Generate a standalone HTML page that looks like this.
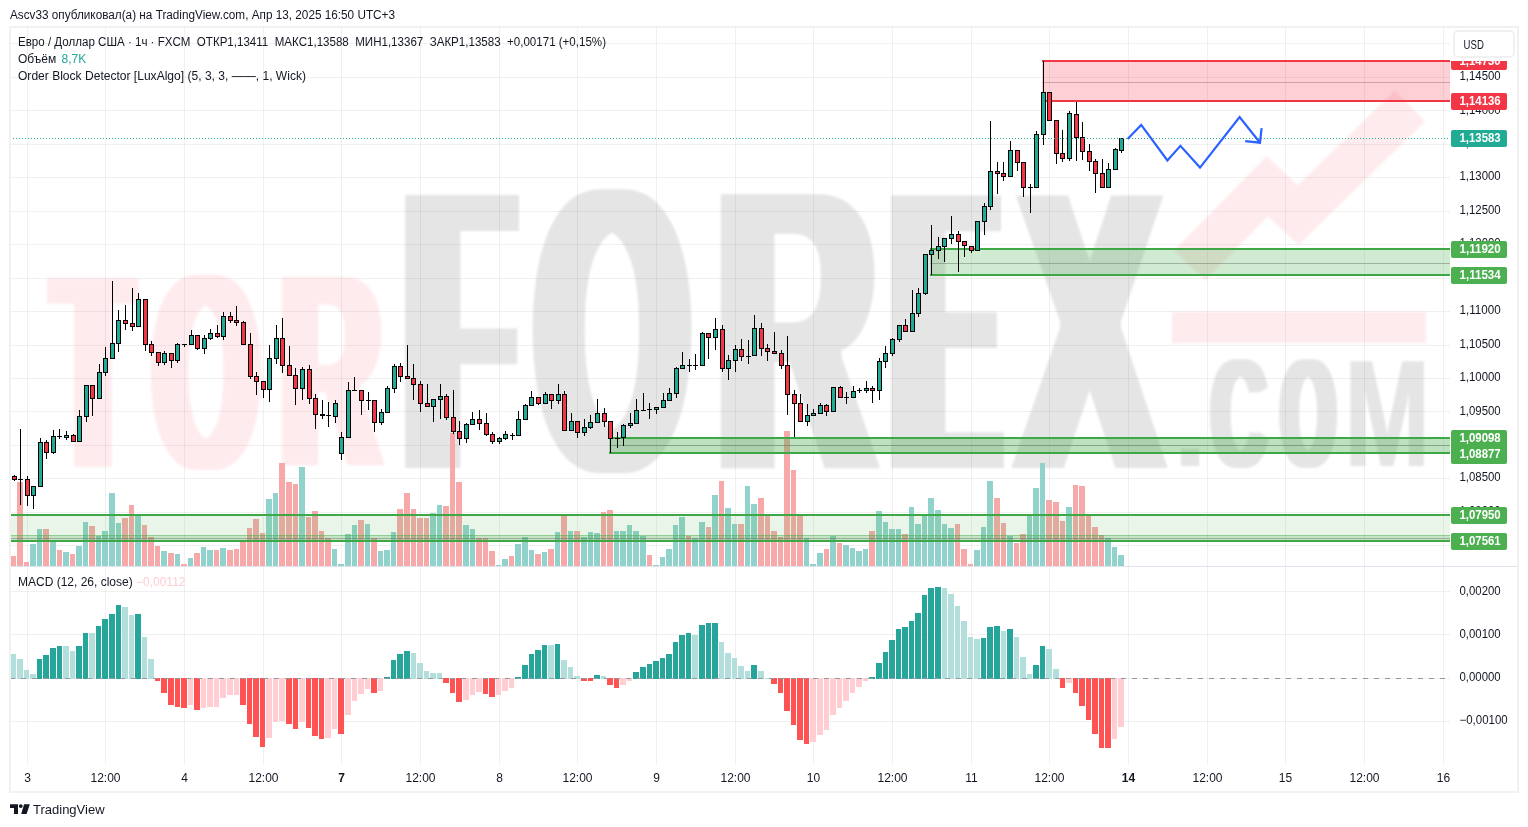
<!DOCTYPE html>
<html><head><meta charset="utf-8"><title>EURUSD chart</title>
<style>
html,body{margin:0;padding:0;background:#fff;}
body{width:1528px;height:827px;overflow:hidden;position:relative;font-family:'Liberation Sans', Arial, sans-serif;}
svg{position:absolute;left:0;top:0;}
svg text{font-family:'Liberation Sans', Arial, sans-serif;}
</style></head>
<body>
<svg width="1528" height="827" viewBox="0 0 1528 827" shape-rendering="crispEdges">
<defs>
<filter id="wf0" x="-40%" y="-20%" width="180%" height="140%"><feMorphology operator="dilate" radius="10.49 0.01"/><feMorphology operator="erode" radius="0.01 2.71"/><feGaussianBlur stdDeviation="0.8"/></filter>
<filter id="wf1" x="-40%" y="-20%" width="180%" height="140%"><feMorphology operator="dilate" radius="8.99 0.01"/><feMorphology operator="erode" radius="0.01 1.92"/><feGaussianBlur stdDeviation="0.8"/></filter>
<filter id="wf2" x="-40%" y="-20%" width="180%" height="140%"><feMorphology operator="dilate" radius="8.02 0.01"/><feMorphology operator="erode" radius="0.01 2.35"/><feGaussianBlur stdDeviation="0.8"/></filter>
<filter id="wf3" x="-40%" y="-20%" width="180%" height="140%"><feMorphology operator="dilate" radius="15.59 0.01"/><feMorphology operator="erode" radius="0.01 5.11"/><feGaussianBlur stdDeviation="0.8"/></filter>
<filter id="wf4" x="-40%" y="-20%" width="180%" height="140%"><feMorphology operator="dilate" radius="11.60 0.01"/><feMorphology operator="erode" radius="0.01 2.53"/><feGaussianBlur stdDeviation="0.8"/></filter>
<filter id="wf5" x="-40%" y="-20%" width="180%" height="140%"><feMorphology operator="dilate" radius="10.86 0.01"/><feMorphology operator="erode" radius="0.01 3.34"/><feGaussianBlur stdDeviation="0.8"/></filter>
<filter id="wf6" x="-40%" y="-20%" width="180%" height="140%"><feMorphology operator="dilate" radius="17.12 0.01"/><feMorphology operator="erode" radius="0.01 4.58"/><feGaussianBlur stdDeviation="0.8"/></filter>
<filter id="wf7" x="-40%" y="-20%" width="180%" height="140%"><feMorphology operator="dilate" radius="11.30 0.01"/><feMorphology operator="erode" radius="0.01 2.50"/><feGaussianBlur stdDeviation="0.8"/></filter>
<filter id="wf8" x="-40%" y="-20%" width="180%" height="140%"><feGaussianBlur stdDeviation="0.8"/></filter>
<filter id="wf9" x="-40%" y="-20%" width="180%" height="140%"><feMorphology operator="dilate" radius="5.05 0.01"/><feMorphology operator="erode" radius="0.01 0.86"/><feGaussianBlur stdDeviation="0.8"/></filter>
<filter id="wf10" x="-40%" y="-20%" width="180%" height="140%"><feMorphology operator="dilate" radius="5.47 0.01"/><feMorphology operator="erode" radius="0.01 0.77"/><feGaussianBlur stdDeviation="0.8"/></filter>
<filter id="wf11" x="-40%" y="-20%" width="180%" height="140%"><feMorphology operator="dilate" radius="0.69 0.01"/><feGaussianBlur stdDeviation="0.8"/></filter>
<filter id="wblur" x="-10%" y="-10%" width="120%" height="120%"><feGaussianBlur stdDeviation="0.8"/></filter>
</defs>
<rect x="0" y="0" width="1528" height="827" fill="#fff"/>
<text x="10" y="18.9" font-size="12.5" fill="#131722" textLength="385" lengthAdjust="spacingAndGlyphs">Ascv33 опубликовал(а) на TradingView.com, Апр 13, 2025 16:50 UTC+3</text>
<g id="grid">
<rect x="27" y="28" width="1" height="736" fill="rgba(42,46,57,0.07)"/>
<rect x="105" y="28" width="1" height="736" fill="rgba(42,46,57,0.07)"/>
<rect x="184" y="28" width="1" height="736" fill="rgba(42,46,57,0.07)"/>
<rect x="263" y="28" width="1" height="736" fill="rgba(42,46,57,0.07)"/>
<rect x="341" y="28" width="1" height="736" fill="rgba(42,46,57,0.07)"/>
<rect x="420" y="28" width="1" height="736" fill="rgba(42,46,57,0.07)"/>
<rect x="499" y="28" width="1" height="736" fill="rgba(42,46,57,0.07)"/>
<rect x="577" y="28" width="1" height="736" fill="rgba(42,46,57,0.07)"/>
<rect x="656" y="28" width="1" height="736" fill="rgba(42,46,57,0.07)"/>
<rect x="735" y="28" width="1" height="736" fill="rgba(42,46,57,0.07)"/>
<rect x="813" y="28" width="1" height="736" fill="rgba(42,46,57,0.07)"/>
<rect x="892" y="28" width="1" height="736" fill="rgba(42,46,57,0.07)"/>
<rect x="971" y="28" width="1" height="736" fill="rgba(42,46,57,0.07)"/>
<rect x="1049" y="28" width="1" height="736" fill="rgba(42,46,57,0.07)"/>
<rect x="1128" y="28" width="1" height="736" fill="rgba(42,46,57,0.07)"/>
<rect x="1207" y="28" width="1" height="736" fill="rgba(42,46,57,0.07)"/>
<rect x="1285" y="28" width="1" height="736" fill="rgba(42,46,57,0.07)"/>
<rect x="1364" y="28" width="1" height="736" fill="rgba(42,46,57,0.07)"/>
<rect x="1443" y="28" width="1" height="736" fill="rgba(42,46,57,0.07)"/>
<rect x="11" y="43" width="1439" height="1" fill="rgba(42,46,57,0.07)"/>
<rect x="11" y="77" width="1439" height="1" fill="rgba(42,46,57,0.07)"/>
<rect x="11" y="110" width="1439" height="1" fill="rgba(42,46,57,0.07)"/>
<rect x="11" y="144" width="1439" height="1" fill="rgba(42,46,57,0.07)"/>
<rect x="11" y="177" width="1439" height="1" fill="rgba(42,46,57,0.07)"/>
<rect x="11" y="211" width="1439" height="1" fill="rgba(42,46,57,0.07)"/>
<rect x="11" y="244" width="1439" height="1" fill="rgba(42,46,57,0.07)"/>
<rect x="11" y="278" width="1439" height="1" fill="rgba(42,46,57,0.07)"/>
<rect x="11" y="311" width="1439" height="1" fill="rgba(42,46,57,0.07)"/>
<rect x="11" y="345" width="1439" height="1" fill="rgba(42,46,57,0.07)"/>
<rect x="11" y="378" width="1439" height="1" fill="rgba(42,46,57,0.07)"/>
<rect x="11" y="411" width="1439" height="1" fill="rgba(42,46,57,0.07)"/>
<rect x="11" y="445" width="1439" height="1" fill="rgba(42,46,57,0.07)"/>
<rect x="11" y="478" width="1439" height="1" fill="rgba(42,46,57,0.07)"/>
<rect x="11" y="512" width="1439" height="1" fill="rgba(42,46,57,0.07)"/>
<rect x="11" y="545" width="1439" height="1" fill="rgba(42,46,57,0.07)"/>
<rect x="11" y="591" width="1439" height="1" fill="rgba(42,46,57,0.07)"/>
<rect x="11" y="634" width="1439" height="1" fill="rgba(42,46,57,0.07)"/>
<rect x="11" y="678" width="1439" height="1" fill="rgba(42,46,57,0.07)"/>
<rect x="11" y="721" width="1439" height="1" fill="rgba(42,46,57,0.07)"/>
</g>
<g id="wm" shape-rendering="auto">
<g filter="url(#wf0)"><text transform="matrix(0.12144 0 0 0.28258 55.63 469.71)" font-size="1000" font-weight="bold" fill="rgba(242,54,69,0.10)">T</text></g>
<g filter="url(#wf1)"><text transform="matrix(0.13245 0 0 0.28142 154.55 469.17)" font-size="1000" font-weight="bold" fill="rgba(242,54,69,0.10)">O</text></g>
<g filter="url(#wf2)"><text transform="matrix(0.13826 0 0 0.27908 280.97 467.35)" font-size="1000" font-weight="bold" fill="rgba(242,54,69,0.10)">R</text></g>
<g filter="url(#wf3)"><text transform="matrix(0.16146 0 0 0.41139 410.29 473.11)" font-size="1000" font-weight="bold" fill="rgba(0,0,0,0.1)">F</text></g>
<g filter="url(#wf4)"><text transform="matrix(0.19430 0 0 0.40969 536.63 472.23)" font-size="1000" font-weight="bold" fill="rgba(0,0,0,0.1)">O</text></g>
<g filter="url(#wf5)"><text transform="matrix(0.21943 0 0 0.40724 717.18 471.34)" font-size="1000" font-weight="bold" fill="rgba(0,0,0,0.1)">R</text></g>
<g filter="url(#wf6)"><text transform="matrix(0.14037 0 0 0.41069 898.74 473.08)" font-size="1000" font-weight="bold" fill="rgba(0,0,0,0.1)">E</text></g>
<g filter="url(#wf7)"><text transform="matrix(0.21311 0 0 0.40466 1018.43 471.00)" font-size="1000" font-weight="bold" fill="rgba(0,0,0,0.1)">X</text></g>
<g filter="url(#wf8)"><text transform="matrix(0.12897 0 0 0.11482 1172.25 465.80)" font-size="1000" font-weight="bold" fill="rgba(0,0,0,0.1)">.</text></g>
<g filter="url(#wf9)"><text transform="matrix(0.07510 0 0 0.15526 1211.77 466.95)" font-size="1000" font-weight="bold" fill="rgba(0,0,0,0.1)">C</text></g>
<g filter="url(#wf10)"><text transform="matrix(0.06932 0 0 0.15500 1281.33 466.86)" font-size="1000" font-weight="bold" fill="rgba(0,0,0,0.1)">O</text></g>
<g filter="url(#wf11)"><text transform="matrix(0.10228 0 0 0.15218 1344.45 466.30)" font-size="1000" font-weight="bold" fill="rgba(0,0,0,0.1)">M</text></g>
<g filter="url(#wblur)"><polyline points="1189.8,265.4 1267.3,186.3 1298.3,215 1409.9,106.2" fill="none" stroke="rgba(242,54,69,0.10)" stroke-width="43" stroke-linejoin="miter" stroke-miterlimit="10"/>
<rect x="1172" y="312" width="254" height="31" fill="rgba(242,54,69,0.10)"/></g>
</g>
<g id="vol">
<rect x="11" y="556.1" width="5" height="9.9" fill="#f7a9a9"/>
<rect x="17" y="481.8" width="6" height="84.2" fill="#f7a9a9"/>
<rect x="24" y="562.2" width="5" height="3.8" fill="#f7a9a9"/>
<rect x="30" y="544.1" width="6" height="21.9" fill="#92d2cc"/>
<rect x="37" y="529.2" width="5" height="36.8" fill="#92d2cc"/>
<rect x="43" y="529.2" width="6" height="36.8" fill="#f7a9a9"/>
<rect x="50" y="541.5" width="6" height="24.5" fill="#92d2cc"/>
<rect x="57" y="550.1" width="5" height="15.9" fill="#f7a9a9"/>
<rect x="63" y="552.1" width="6" height="13.9" fill="#92d2cc"/>
<rect x="70" y="554.2" width="5" height="11.8" fill="#f7a9a9"/>
<rect x="76" y="546.2" width="6" height="19.8" fill="#92d2cc"/>
<rect x="83" y="522.1" width="5" height="43.9" fill="#92d2cc"/>
<rect x="89" y="526.1" width="6" height="39.9" fill="#f7a9a9"/>
<rect x="96" y="536.0" width="5" height="30.0" fill="#92d2cc"/>
<rect x="102" y="531.3" width="6" height="34.7" fill="#92d2cc"/>
<rect x="109" y="493.2" width="6" height="72.8" fill="#92d2cc"/>
<rect x="116" y="523.1" width="5" height="42.9" fill="#92d2cc"/>
<rect x="122" y="518.1" width="6" height="47.9" fill="#f7a9a9"/>
<rect x="129" y="505.2" width="5" height="60.8" fill="#f7a9a9"/>
<rect x="135" y="514.4" width="6" height="51.6" fill="#92d2cc"/>
<rect x="142" y="525.0" width="5" height="41.0" fill="#f7a9a9"/>
<rect x="148" y="537.2" width="6" height="28.8" fill="#f7a9a9"/>
<rect x="155" y="546.2" width="5" height="19.8" fill="#f7a9a9"/>
<rect x="161" y="551.2" width="6" height="14.8" fill="#92d2cc"/>
<rect x="168" y="553.1" width="6" height="12.9" fill="#f7a9a9"/>
<rect x="175" y="554.2" width="5" height="11.8" fill="#92d2cc"/>
<rect x="181" y="564.1" width="6" height="1.9" fill="#f7a9a9"/>
<rect x="188" y="558.1" width="5" height="7.9" fill="#92d2cc"/>
<rect x="194" y="553.1" width="6" height="12.9" fill="#f7a9a9"/>
<rect x="201" y="547.1" width="5" height="18.9" fill="#92d2cc"/>
<rect x="207" y="550.1" width="6" height="15.9" fill="#92d2cc"/>
<rect x="214" y="550.1" width="5" height="15.9" fill="#f7a9a9"/>
<rect x="220" y="548.1" width="6" height="17.9" fill="#92d2cc"/>
<rect x="227" y="550.1" width="6" height="15.9" fill="#f7a9a9"/>
<rect x="234" y="549.2" width="5" height="16.8" fill="#f7a9a9"/>
<rect x="240" y="541.1" width="6" height="24.9" fill="#f7a9a9"/>
<rect x="247" y="528.1" width="5" height="37.9" fill="#f7a9a9"/>
<rect x="253" y="519.1" width="6" height="46.9" fill="#f7a9a9"/>
<rect x="260" y="533.1" width="5" height="32.9" fill="#f7a9a9"/>
<rect x="266" y="499.2" width="6" height="66.8" fill="#92d2cc"/>
<rect x="273" y="493.2" width="5" height="72.8" fill="#92d2cc"/>
<rect x="279" y="463.2" width="6" height="102.8" fill="#f7a9a9"/>
<rect x="286" y="482.2" width="6" height="83.8" fill="#f7a9a9"/>
<rect x="293" y="484.1" width="5" height="81.9" fill="#f7a9a9"/>
<rect x="299" y="467.1" width="6" height="98.9" fill="#92d2cc"/>
<rect x="306" y="517.1" width="5" height="48.9" fill="#f7a9a9"/>
<rect x="312" y="511.1" width="6" height="54.9" fill="#f7a9a9"/>
<rect x="319" y="531.2" width="5" height="34.8" fill="#f7a9a9"/>
<rect x="325" y="538.3" width="6" height="27.7" fill="#f7a9a9"/>
<rect x="332" y="549.1" width="5" height="16.9" fill="#92d2cc"/>
<rect x="338" y="564.2" width="6" height="1.8" fill="#92d2cc"/>
<rect x="345" y="534.2" width="6" height="31.8" fill="#92d2cc"/>
<rect x="352" y="525.1" width="5" height="40.9" fill="#92d2cc"/>
<rect x="358" y="520.0" width="6" height="46.0" fill="#f7a9a9"/>
<rect x="365" y="524.1" width="5" height="41.9" fill="#92d2cc"/>
<rect x="371" y="538.3" width="6" height="27.7" fill="#f7a9a9"/>
<rect x="378" y="551.1" width="5" height="14.9" fill="#92d2cc"/>
<rect x="384" y="550.0" width="6" height="16.0" fill="#92d2cc"/>
<rect x="391" y="532.1" width="5" height="33.9" fill="#92d2cc"/>
<rect x="397" y="509.1" width="6" height="56.9" fill="#f7a9a9"/>
<rect x="404" y="493.0" width="6" height="73.0" fill="#f7a9a9"/>
<rect x="411" y="509.1" width="5" height="56.9" fill="#f7a9a9"/>
<rect x="417" y="518.0" width="6" height="48.0" fill="#f7a9a9"/>
<rect x="424" y="518.0" width="5" height="48.0" fill="#f7a9a9"/>
<rect x="430" y="513.1" width="6" height="52.9" fill="#92d2cc"/>
<rect x="437" y="505.1" width="5" height="60.9" fill="#92d2cc"/>
<rect x="443" y="506.1" width="6" height="59.9" fill="#f7a9a9"/>
<rect x="450" y="432.5" width="5" height="133.5" fill="#f7a9a9"/>
<rect x="456" y="482.2" width="6" height="83.8" fill="#f7a9a9"/>
<rect x="463" y="525.1" width="6" height="40.9" fill="#92d2cc"/>
<rect x="470" y="529.0" width="5" height="37.0" fill="#92d2cc"/>
<rect x="476" y="538.3" width="6" height="27.7" fill="#f7a9a9"/>
<rect x="483" y="538.3" width="5" height="27.7" fill="#f7a9a9"/>
<rect x="489" y="551.1" width="6" height="14.9" fill="#f7a9a9"/>
<rect x="496" y="565.1" width="5" height="0.9" fill="#92d2cc"/>
<rect x="502" y="559.2" width="6" height="6.8" fill="#92d2cc"/>
<rect x="509" y="556.2" width="5" height="9.8" fill="#f7a9a9"/>
<rect x="515" y="544.1" width="6" height="21.9" fill="#92d2cc"/>
<rect x="522" y="537.2" width="6" height="28.8" fill="#92d2cc"/>
<rect x="529" y="550.0" width="5" height="16.0" fill="#92d2cc"/>
<rect x="535" y="554.1" width="6" height="11.9" fill="#f7a9a9"/>
<rect x="542" y="552.1" width="5" height="13.9" fill="#92d2cc"/>
<rect x="548" y="549.1" width="6" height="16.9" fill="#f7a9a9"/>
<rect x="555" y="532.1" width="5" height="33.9" fill="#92d2cc"/>
<rect x="561" y="515.0" width="6" height="51.0" fill="#f7a9a9"/>
<rect x="568" y="531.0" width="5" height="35.0" fill="#92d2cc"/>
<rect x="574" y="531.0" width="6" height="35.0" fill="#f7a9a9"/>
<rect x="581" y="537.2" width="6" height="28.8" fill="#92d2cc"/>
<rect x="588" y="532.1" width="5" height="33.9" fill="#92d2cc"/>
<rect x="594" y="533.1" width="6" height="32.9" fill="#92d2cc"/>
<rect x="601" y="512.0" width="5" height="54.0" fill="#f7a9a9"/>
<rect x="607" y="510.2" width="6" height="55.8" fill="#f7a9a9"/>
<rect x="614" y="531.0" width="5" height="35.0" fill="#92d2cc"/>
<rect x="620" y="531.0" width="6" height="35.0" fill="#92d2cc"/>
<rect x="627" y="525.1" width="5" height="40.9" fill="#92d2cc"/>
<rect x="633" y="531.0" width="6" height="35.0" fill="#92d2cc"/>
<rect x="640" y="536.1" width="6" height="29.9" fill="#92d2cc"/>
<rect x="647" y="555.1" width="5" height="10.9" fill="#f7a9a9"/>
<rect x="653" y="565.1" width="6" height="0.9" fill="#92d2cc"/>
<rect x="660" y="557.1" width="5" height="8.9" fill="#92d2cc"/>
<rect x="666" y="549.1" width="6" height="16.9" fill="#92d2cc"/>
<rect x="673" y="525.1" width="5" height="40.9" fill="#92d2cc"/>
<rect x="679" y="517.2" width="6" height="48.8" fill="#92d2cc"/>
<rect x="686" y="536.1" width="5" height="29.9" fill="#f7a9a9"/>
<rect x="692" y="538.3" width="6" height="27.7" fill="#92d2cc"/>
<rect x="699" y="522.1" width="6" height="43.9" fill="#92d2cc"/>
<rect x="706" y="527.0" width="5" height="39.0" fill="#f7a9a9"/>
<rect x="712" y="495.1" width="6" height="70.9" fill="#92d2cc"/>
<rect x="719" y="481.1" width="5" height="84.9" fill="#f7a9a9"/>
<rect x="725" y="508.1" width="6" height="57.9" fill="#92d2cc"/>
<rect x="732" y="524.1" width="5" height="41.9" fill="#92d2cc"/>
<rect x="738" y="524.1" width="6" height="41.9" fill="#f7a9a9"/>
<rect x="745" y="486.1" width="5" height="79.9" fill="#92d2cc"/>
<rect x="751" y="504.2" width="6" height="61.8" fill="#92d2cc"/>
<rect x="758" y="498.1" width="6" height="67.9" fill="#f7a9a9"/>
<rect x="765" y="515.2" width="5" height="50.8" fill="#f7a9a9"/>
<rect x="771" y="531.0" width="6" height="35.0" fill="#f7a9a9"/>
<rect x="778" y="537.2" width="5" height="28.8" fill="#f7a9a9"/>
<rect x="784" y="431.0" width="6" height="135.0" fill="#f7a9a9"/>
<rect x="791" y="470.1" width="5" height="95.9" fill="#f7a9a9"/>
<rect x="797" y="515.2" width="6" height="50.8" fill="#f7a9a9"/>
<rect x="804" y="538.3" width="5" height="27.7" fill="#92d2cc"/>
<rect x="810" y="564.2" width="6" height="1.8" fill="#92d2cc"/>
<rect x="817" y="553.2" width="6" height="12.8" fill="#92d2cc"/>
<rect x="824" y="549.1" width="5" height="16.9" fill="#f7a9a9"/>
<rect x="830" y="536.1" width="6" height="29.9" fill="#92d2cc"/>
<rect x="837" y="543.1" width="5" height="22.9" fill="#f7a9a9"/>
<rect x="843" y="545.0" width="6" height="21.0" fill="#92d2cc"/>
<rect x="850" y="548.2" width="5" height="17.8" fill="#92d2cc"/>
<rect x="856" y="551.1" width="6" height="14.9" fill="#92d2cc"/>
<rect x="863" y="549.1" width="5" height="16.9" fill="#92d2cc"/>
<rect x="869" y="531.0" width="6" height="35.0" fill="#f7a9a9"/>
<rect x="876" y="511.1" width="6" height="54.9" fill="#92d2cc"/>
<rect x="883" y="522.1" width="5" height="43.9" fill="#92d2cc"/>
<rect x="889" y="529.0" width="6" height="37.0" fill="#92d2cc"/>
<rect x="896" y="529.0" width="5" height="37.0" fill="#92d2cc"/>
<rect x="902" y="534.2" width="6" height="31.8" fill="#f7a9a9"/>
<rect x="909" y="507.2" width="5" height="58.8" fill="#92d2cc"/>
<rect x="915" y="524.1" width="6" height="41.9" fill="#92d2cc"/>
<rect x="922" y="515.2" width="5" height="50.8" fill="#92d2cc"/>
<rect x="928" y="498.1" width="6" height="67.9" fill="#92d2cc"/>
<rect x="935" y="510.2" width="6" height="55.8" fill="#92d2cc"/>
<rect x="942" y="524.1" width="5" height="41.9" fill="#92d2cc"/>
<rect x="948" y="528.1" width="6" height="37.9" fill="#92d2cc"/>
<rect x="955" y="524.1" width="5" height="41.9" fill="#f7a9a9"/>
<rect x="961" y="549.1" width="6" height="16.9" fill="#f7a9a9"/>
<rect x="968" y="564.2" width="5" height="1.8" fill="#f7a9a9"/>
<rect x="974" y="550.0" width="6" height="16.0" fill="#92d2cc"/>
<rect x="981" y="527.1" width="5" height="38.9" fill="#92d2cc"/>
<rect x="987" y="481.1" width="6" height="84.9" fill="#92d2cc"/>
<rect x="994" y="498.1" width="6" height="67.9" fill="#f7a9a9"/>
<rect x="1001" y="523.0" width="5" height="43.0" fill="#f7a9a9"/>
<rect x="1007" y="536.1" width="6" height="29.9" fill="#92d2cc"/>
<rect x="1014" y="543.1" width="5" height="22.9" fill="#f7a9a9"/>
<rect x="1020" y="534.2" width="6" height="31.8" fill="#f7a9a9"/>
<rect x="1027" y="514.1" width="5" height="51.9" fill="#92d2cc"/>
<rect x="1033" y="488.0" width="6" height="78.0" fill="#92d2cc"/>
<rect x="1040" y="463.0" width="5" height="103.0" fill="#92d2cc"/>
<rect x="1046" y="500.1" width="6" height="65.9" fill="#f7a9a9"/>
<rect x="1053" y="502.0" width="6" height="64.0" fill="#f7a9a9"/>
<rect x="1060" y="521.1" width="5" height="44.9" fill="#f7a9a9"/>
<rect x="1066" y="507.2" width="6" height="58.8" fill="#92d2cc"/>
<rect x="1073" y="485.0" width="5" height="81.0" fill="#f7a9a9"/>
<rect x="1079" y="486.1" width="6" height="79.9" fill="#f7a9a9"/>
<rect x="1086" y="514.1" width="5" height="51.9" fill="#f7a9a9"/>
<rect x="1092" y="527.1" width="6" height="38.9" fill="#f7a9a9"/>
<rect x="1099" y="535.1" width="5" height="30.9" fill="#f7a9a9"/>
<rect x="1105" y="538.3" width="6" height="27.7" fill="#92d2cc"/>
<rect x="1112" y="547.1" width="5" height="18.9" fill="#92d2cc"/>
<rect x="1118" y="555.1" width="6" height="10.9" fill="#92d2cc"/>
</g>
<g id="ob">
<rect x="1042" y="60" width="408" height="42" fill="rgba(242,54,69,0.23)"/>
<rect x="1042" y="60" width="408" height="2" fill="#f23645"/>
<rect x="1042" y="100" width="408" height="2" fill="#f23645"/>
<rect x="1042" y="82" width="408" height="1" fill="rgba(150,100,110,0.45)"/>
<rect x="930" y="248" width="520" height="28" fill="rgba(76,175,80,0.26)"/>
<rect x="930" y="248" width="520" height="2" fill="#3ea846"/>
<rect x="930" y="274" width="520" height="2" fill="#3ea846"/>
<rect x="930" y="263" width="520" height="1" fill="rgba(100,110,100,0.45)"/>
<rect x="609" y="437" width="841" height="17" fill="rgba(76,175,80,0.36)"/>
<rect x="609" y="437" width="841" height="2" fill="#3ea846"/>
<rect x="609" y="452" width="841" height="2" fill="#3ea846"/>
<rect x="609" y="445" width="841" height="1" fill="rgba(80,100,80,0.45)"/>
<rect x="11" y="514" width="1439" height="28" fill="rgba(76,175,80,0.13)"/>
<rect x="11" y="535" width="1439" height="6" fill="rgba(76,175,80,0.22)"/>
<rect x="11" y="535" width="1439" height="1" fill="rgba(76,175,80,0.45)"/>
<rect x="11" y="538" width="1439" height="1" fill="rgba(80,100,80,0.4)"/>
<rect x="11" y="514" width="1439" height="2" fill="#3ea846"/>
<rect x="11" y="540" width="1439" height="2" fill="#3ea846"/>
</g>
<g id="candles">
<rect x="14" y="475" width="1" height="1" fill="#000"/>
<rect x="14" y="480" width="1" height="1" fill="#000"/>
<rect x="12" y="476" width="5" height="4" fill="#000"/>
<rect x="13" y="477" width="3" height="2" fill="#f23645"/>
<rect x="20" y="429" width="1" height="50" fill="#000"/>
<rect x="20" y="480" width="1" height="25" fill="#000"/>
<rect x="18" y="479" width="5" height="1" fill="#000"/>
<rect x="27" y="476" width="1" height="3" fill="#000"/>
<rect x="27" y="496" width="1" height="10" fill="#000"/>
<rect x="25" y="479" width="5" height="17" fill="#000"/>
<rect x="26" y="480" width="3" height="15" fill="#f23645"/>
<rect x="33" y="496" width="1" height="13" fill="#000"/>
<rect x="31" y="486" width="5" height="10" fill="#000"/>
<rect x="32" y="487" width="3" height="8" fill="#22ab94"/>
<rect x="40" y="438" width="1" height="4" fill="#000"/>
<rect x="38" y="442" width="5" height="45" fill="#000"/>
<rect x="39" y="443" width="3" height="43" fill="#22ab94"/>
<rect x="46" y="440" width="1" height="2" fill="#000"/>
<rect x="46" y="453" width="1" height="6" fill="#000"/>
<rect x="44" y="442" width="5" height="11" fill="#000"/>
<rect x="45" y="443" width="3" height="9" fill="#f23645"/>
<rect x="53" y="430" width="1" height="6" fill="#000"/>
<rect x="53" y="453" width="1" height="1" fill="#000"/>
<rect x="51" y="436" width="5" height="17" fill="#000"/>
<rect x="52" y="437" width="3" height="15" fill="#22ab94"/>
<rect x="59" y="429" width="1" height="7" fill="#000"/>
<rect x="59" y="437" width="1" height="2" fill="#000"/>
<rect x="57" y="436" width="5" height="1" fill="#000"/>
<rect x="66" y="431" width="1" height="4" fill="#000"/>
<rect x="66" y="438" width="1" height="2" fill="#000"/>
<rect x="64" y="435" width="5" height="3" fill="#000"/>
<rect x="65" y="436" width="3" height="1" fill="#22ab94"/>
<rect x="73" y="434" width="1" height="1" fill="#000"/>
<rect x="71" y="435" width="5" height="7" fill="#000"/>
<rect x="72" y="436" width="3" height="5" fill="#f23645"/>
<rect x="79" y="410" width="1" height="6" fill="#000"/>
<rect x="77" y="416" width="5" height="26" fill="#000"/>
<rect x="78" y="417" width="3" height="24" fill="#22ab94"/>
<rect x="86" y="417" width="1" height="5" fill="#000"/>
<rect x="84" y="385" width="5" height="32" fill="#000"/>
<rect x="85" y="386" width="3" height="30" fill="#22ab94"/>
<rect x="92" y="399" width="1" height="17" fill="#000"/>
<rect x="90" y="385" width="5" height="14" fill="#000"/>
<rect x="91" y="386" width="3" height="12" fill="#f23645"/>
<rect x="99" y="364" width="1" height="8" fill="#000"/>
<rect x="97" y="372" width="5" height="27" fill="#000"/>
<rect x="98" y="373" width="3" height="25" fill="#22ab94"/>
<rect x="105" y="347" width="1" height="11" fill="#000"/>
<rect x="105" y="373" width="1" height="3" fill="#000"/>
<rect x="103" y="358" width="5" height="15" fill="#000"/>
<rect x="104" y="359" width="3" height="13" fill="#22ab94"/>
<rect x="112" y="281" width="1" height="62" fill="#000"/>
<rect x="110" y="343" width="5" height="16" fill="#000"/>
<rect x="111" y="344" width="3" height="14" fill="#22ab94"/>
<rect x="118" y="310" width="1" height="10" fill="#000"/>
<rect x="118" y="344" width="1" height="8" fill="#000"/>
<rect x="116" y="320" width="5" height="24" fill="#000"/>
<rect x="117" y="321" width="3" height="22" fill="#22ab94"/>
<rect x="125" y="305" width="1" height="15" fill="#000"/>
<rect x="125" y="324" width="1" height="6" fill="#000"/>
<rect x="123" y="320" width="5" height="4" fill="#000"/>
<rect x="124" y="321" width="3" height="2" fill="#f23645"/>
<rect x="132" y="288" width="1" height="35" fill="#000"/>
<rect x="132" y="327" width="1" height="4" fill="#000"/>
<rect x="130" y="323" width="5" height="4" fill="#000"/>
<rect x="131" y="324" width="3" height="2" fill="#f23645"/>
<rect x="138" y="293" width="1" height="6" fill="#000"/>
<rect x="136" y="299" width="5" height="28" fill="#000"/>
<rect x="137" y="300" width="3" height="26" fill="#22ab94"/>
<rect x="145" y="345" width="1" height="6" fill="#000"/>
<rect x="143" y="299" width="5" height="46" fill="#000"/>
<rect x="144" y="300" width="3" height="44" fill="#f23645"/>
<rect x="151" y="341" width="1" height="3" fill="#000"/>
<rect x="151" y="353" width="1" height="3" fill="#000"/>
<rect x="149" y="344" width="5" height="9" fill="#000"/>
<rect x="150" y="345" width="3" height="7" fill="#f23645"/>
<rect x="158" y="363" width="1" height="3" fill="#000"/>
<rect x="156" y="352" width="5" height="11" fill="#000"/>
<rect x="157" y="353" width="3" height="9" fill="#f23645"/>
<rect x="164" y="351" width="1" height="2" fill="#000"/>
<rect x="164" y="363" width="1" height="2" fill="#000"/>
<rect x="162" y="353" width="5" height="10" fill="#000"/>
<rect x="163" y="354" width="3" height="8" fill="#22ab94"/>
<rect x="171" y="361" width="1" height="7" fill="#000"/>
<rect x="169" y="353" width="5" height="8" fill="#000"/>
<rect x="170" y="354" width="3" height="6" fill="#f23645"/>
<rect x="177" y="343" width="1" height="1" fill="#000"/>
<rect x="177" y="361" width="1" height="2" fill="#000"/>
<rect x="175" y="344" width="5" height="17" fill="#000"/>
<rect x="176" y="345" width="3" height="15" fill="#22ab94"/>
<rect x="184" y="345" width="1" height="2" fill="#000"/>
<rect x="182" y="344" width="5" height="1" fill="#000"/>
<rect x="191" y="330" width="1" height="5" fill="#000"/>
<rect x="189" y="335" width="5" height="10" fill="#000"/>
<rect x="190" y="336" width="3" height="8" fill="#22ab94"/>
<rect x="197" y="349" width="1" height="1" fill="#000"/>
<rect x="195" y="335" width="5" height="14" fill="#000"/>
<rect x="196" y="336" width="3" height="12" fill="#f23645"/>
<rect x="204" y="335" width="1" height="3" fill="#000"/>
<rect x="204" y="349" width="1" height="5" fill="#000"/>
<rect x="202" y="338" width="5" height="11" fill="#000"/>
<rect x="203" y="339" width="3" height="9" fill="#22ab94"/>
<rect x="210" y="329" width="1" height="4" fill="#000"/>
<rect x="210" y="339" width="1" height="1" fill="#000"/>
<rect x="208" y="333" width="5" height="6" fill="#000"/>
<rect x="209" y="334" width="3" height="4" fill="#22ab94"/>
<rect x="217" y="325" width="1" height="8" fill="#000"/>
<rect x="217" y="337" width="1" height="1" fill="#000"/>
<rect x="215" y="333" width="5" height="4" fill="#000"/>
<rect x="216" y="334" width="3" height="2" fill="#f23645"/>
<rect x="223" y="312" width="1" height="4" fill="#000"/>
<rect x="223" y="337" width="1" height="3" fill="#000"/>
<rect x="221" y="316" width="5" height="21" fill="#000"/>
<rect x="222" y="317" width="3" height="19" fill="#22ab94"/>
<rect x="230" y="312" width="1" height="4" fill="#000"/>
<rect x="230" y="321" width="1" height="2" fill="#000"/>
<rect x="228" y="316" width="5" height="5" fill="#000"/>
<rect x="229" y="317" width="3" height="3" fill="#f23645"/>
<rect x="236" y="306" width="1" height="14" fill="#000"/>
<rect x="236" y="323" width="1" height="3" fill="#000"/>
<rect x="234" y="320" width="5" height="3" fill="#000"/>
<rect x="235" y="321" width="3" height="1" fill="#f23645"/>
<rect x="243" y="321" width="1" height="1" fill="#000"/>
<rect x="241" y="322" width="5" height="23" fill="#000"/>
<rect x="242" y="323" width="3" height="21" fill="#f23645"/>
<rect x="250" y="333" width="1" height="11" fill="#000"/>
<rect x="250" y="377" width="1" height="2" fill="#000"/>
<rect x="248" y="344" width="5" height="33" fill="#000"/>
<rect x="249" y="345" width="3" height="31" fill="#f23645"/>
<rect x="256" y="372" width="1" height="4" fill="#000"/>
<rect x="256" y="382" width="1" height="13" fill="#000"/>
<rect x="254" y="376" width="5" height="6" fill="#000"/>
<rect x="255" y="377" width="3" height="4" fill="#f23645"/>
<rect x="263" y="390" width="1" height="8" fill="#000"/>
<rect x="261" y="381" width="5" height="9" fill="#000"/>
<rect x="262" y="382" width="3" height="7" fill="#f23645"/>
<rect x="269" y="345" width="1" height="13" fill="#000"/>
<rect x="269" y="390" width="1" height="12" fill="#000"/>
<rect x="267" y="358" width="5" height="32" fill="#000"/>
<rect x="268" y="359" width="3" height="30" fill="#22ab94"/>
<rect x="276" y="325" width="1" height="13" fill="#000"/>
<rect x="276" y="359" width="1" height="5" fill="#000"/>
<rect x="274" y="338" width="5" height="21" fill="#000"/>
<rect x="275" y="339" width="3" height="19" fill="#22ab94"/>
<rect x="282" y="318" width="1" height="20" fill="#000"/>
<rect x="282" y="366" width="1" height="7" fill="#000"/>
<rect x="280" y="338" width="5" height="28" fill="#000"/>
<rect x="281" y="339" width="3" height="26" fill="#f23645"/>
<rect x="289" y="346" width="1" height="19" fill="#000"/>
<rect x="287" y="365" width="5" height="11" fill="#000"/>
<rect x="288" y="366" width="3" height="9" fill="#f23645"/>
<rect x="295" y="368" width="1" height="7" fill="#000"/>
<rect x="295" y="389" width="1" height="16" fill="#000"/>
<rect x="293" y="375" width="5" height="14" fill="#000"/>
<rect x="294" y="376" width="3" height="12" fill="#f23645"/>
<rect x="302" y="367" width="1" height="2" fill="#000"/>
<rect x="302" y="389" width="1" height="11" fill="#000"/>
<rect x="300" y="369" width="5" height="20" fill="#000"/>
<rect x="301" y="370" width="3" height="18" fill="#22ab94"/>
<rect x="309" y="365" width="1" height="4" fill="#000"/>
<rect x="309" y="399" width="1" height="5" fill="#000"/>
<rect x="307" y="369" width="5" height="30" fill="#000"/>
<rect x="308" y="370" width="3" height="28" fill="#f23645"/>
<rect x="315" y="394" width="1" height="4" fill="#000"/>
<rect x="315" y="415" width="1" height="14" fill="#000"/>
<rect x="313" y="398" width="5" height="17" fill="#000"/>
<rect x="314" y="399" width="3" height="15" fill="#f23645"/>
<rect x="322" y="400" width="1" height="14" fill="#000"/>
<rect x="322" y="416" width="1" height="3" fill="#000"/>
<rect x="320" y="414" width="5" height="2" fill="#000"/>
<rect x="328" y="402" width="1" height="13" fill="#000"/>
<rect x="328" y="416" width="1" height="11" fill="#000"/>
<rect x="326" y="415" width="5" height="1" fill="#000"/>
<rect x="335" y="400" width="1" height="3" fill="#000"/>
<rect x="335" y="417" width="1" height="6" fill="#000"/>
<rect x="333" y="403" width="5" height="14" fill="#000"/>
<rect x="334" y="404" width="3" height="12" fill="#22ab94"/>
<rect x="341" y="432" width="1" height="5" fill="#000"/>
<rect x="341" y="454" width="1" height="6" fill="#000"/>
<rect x="339" y="437" width="5" height="17" fill="#000"/>
<rect x="340" y="438" width="3" height="15" fill="#22ab94"/>
<rect x="348" y="382" width="1" height="8" fill="#000"/>
<rect x="346" y="390" width="5" height="48" fill="#000"/>
<rect x="347" y="391" width="3" height="46" fill="#22ab94"/>
<rect x="354" y="377" width="1" height="13" fill="#000"/>
<rect x="352" y="390" width="5" height="1" fill="#000"/>
<rect x="361" y="401" width="1" height="14" fill="#000"/>
<rect x="359" y="390" width="5" height="11" fill="#000"/>
<rect x="360" y="391" width="3" height="9" fill="#f23645"/>
<rect x="368" y="392" width="1" height="8" fill="#000"/>
<rect x="368" y="401" width="1" height="9" fill="#000"/>
<rect x="366" y="400" width="5" height="1" fill="#000"/>
<rect x="374" y="423" width="1" height="9" fill="#000"/>
<rect x="372" y="400" width="5" height="23" fill="#000"/>
<rect x="373" y="401" width="3" height="21" fill="#f23645"/>
<rect x="381" y="409" width="1" height="3" fill="#000"/>
<rect x="381" y="423" width="1" height="2" fill="#000"/>
<rect x="379" y="412" width="5" height="11" fill="#000"/>
<rect x="380" y="413" width="3" height="9" fill="#22ab94"/>
<rect x="387" y="386" width="1" height="2" fill="#000"/>
<rect x="385" y="388" width="5" height="25" fill="#000"/>
<rect x="386" y="389" width="3" height="23" fill="#22ab94"/>
<rect x="394" y="364" width="1" height="2" fill="#000"/>
<rect x="394" y="389" width="1" height="4" fill="#000"/>
<rect x="392" y="366" width="5" height="23" fill="#000"/>
<rect x="393" y="367" width="3" height="21" fill="#22ab94"/>
<rect x="400" y="363" width="1" height="3" fill="#000"/>
<rect x="400" y="377" width="1" height="5" fill="#000"/>
<rect x="398" y="366" width="5" height="11" fill="#000"/>
<rect x="399" y="367" width="3" height="9" fill="#f23645"/>
<rect x="407" y="345" width="1" height="31" fill="#000"/>
<rect x="405" y="376" width="5" height="3" fill="#000"/>
<rect x="406" y="377" width="3" height="1" fill="#f23645"/>
<rect x="413" y="364" width="1" height="14" fill="#000"/>
<rect x="413" y="385" width="1" height="15" fill="#000"/>
<rect x="411" y="378" width="5" height="7" fill="#000"/>
<rect x="412" y="379" width="3" height="5" fill="#f23645"/>
<rect x="420" y="381" width="1" height="3" fill="#000"/>
<rect x="420" y="404" width="1" height="8" fill="#000"/>
<rect x="418" y="384" width="5" height="20" fill="#000"/>
<rect x="419" y="385" width="3" height="18" fill="#f23645"/>
<rect x="427" y="384" width="1" height="19" fill="#000"/>
<rect x="425" y="403" width="5" height="4" fill="#000"/>
<rect x="426" y="404" width="3" height="2" fill="#f23645"/>
<rect x="433" y="407" width="1" height="15" fill="#000"/>
<rect x="431" y="399" width="5" height="8" fill="#000"/>
<rect x="432" y="400" width="3" height="6" fill="#22ab94"/>
<rect x="440" y="384" width="1" height="12" fill="#000"/>
<rect x="440" y="400" width="1" height="19" fill="#000"/>
<rect x="438" y="396" width="5" height="4" fill="#000"/>
<rect x="439" y="397" width="3" height="2" fill="#22ab94"/>
<rect x="446" y="394" width="1" height="2" fill="#000"/>
<rect x="446" y="418" width="1" height="2" fill="#000"/>
<rect x="444" y="396" width="5" height="22" fill="#000"/>
<rect x="445" y="397" width="3" height="20" fill="#f23645"/>
<rect x="453" y="390" width="1" height="27" fill="#000"/>
<rect x="453" y="432" width="1" height="2" fill="#000"/>
<rect x="451" y="417" width="5" height="15" fill="#000"/>
<rect x="452" y="418" width="3" height="13" fill="#f23645"/>
<rect x="459" y="421" width="1" height="10" fill="#000"/>
<rect x="459" y="439" width="1" height="6" fill="#000"/>
<rect x="457" y="431" width="5" height="8" fill="#000"/>
<rect x="458" y="432" width="3" height="6" fill="#f23645"/>
<rect x="466" y="423" width="1" height="1" fill="#000"/>
<rect x="466" y="439" width="1" height="4" fill="#000"/>
<rect x="464" y="424" width="5" height="15" fill="#000"/>
<rect x="465" y="425" width="3" height="13" fill="#22ab94"/>
<rect x="472" y="412" width="1" height="7" fill="#000"/>
<rect x="470" y="419" width="5" height="6" fill="#000"/>
<rect x="471" y="420" width="3" height="4" fill="#22ab94"/>
<rect x="479" y="410" width="1" height="9" fill="#000"/>
<rect x="479" y="424" width="1" height="6" fill="#000"/>
<rect x="477" y="419" width="5" height="5" fill="#000"/>
<rect x="478" y="420" width="3" height="3" fill="#f23645"/>
<rect x="486" y="413" width="1" height="10" fill="#000"/>
<rect x="486" y="435" width="1" height="1" fill="#000"/>
<rect x="484" y="423" width="5" height="12" fill="#000"/>
<rect x="485" y="424" width="3" height="10" fill="#f23645"/>
<rect x="492" y="432" width="1" height="2" fill="#000"/>
<rect x="492" y="442" width="1" height="2" fill="#000"/>
<rect x="490" y="434" width="5" height="8" fill="#000"/>
<rect x="491" y="435" width="3" height="6" fill="#f23645"/>
<rect x="499" y="437" width="1" height="1" fill="#000"/>
<rect x="499" y="442" width="1" height="2" fill="#000"/>
<rect x="497" y="438" width="5" height="4" fill="#000"/>
<rect x="498" y="439" width="3" height="2" fill="#22ab94"/>
<rect x="505" y="431" width="1" height="3" fill="#000"/>
<rect x="505" y="439" width="1" height="1" fill="#000"/>
<rect x="503" y="434" width="5" height="5" fill="#000"/>
<rect x="504" y="435" width="3" height="3" fill="#22ab94"/>
<rect x="512" y="433" width="1" height="2" fill="#000"/>
<rect x="512" y="436" width="1" height="4" fill="#000"/>
<rect x="510" y="435" width="5" height="1" fill="#000"/>
<rect x="518" y="411" width="1" height="8" fill="#000"/>
<rect x="516" y="419" width="5" height="17" fill="#000"/>
<rect x="517" y="420" width="3" height="15" fill="#22ab94"/>
<rect x="525" y="404" width="1" height="1" fill="#000"/>
<rect x="523" y="405" width="5" height="15" fill="#000"/>
<rect x="524" y="406" width="3" height="13" fill="#22ab94"/>
<rect x="531" y="391" width="1" height="6" fill="#000"/>
<rect x="529" y="397" width="5" height="9" fill="#000"/>
<rect x="530" y="398" width="3" height="7" fill="#22ab94"/>
<rect x="538" y="404" width="1" height="1" fill="#000"/>
<rect x="536" y="397" width="5" height="7" fill="#000"/>
<rect x="537" y="398" width="3" height="5" fill="#f23645"/>
<rect x="545" y="392" width="1" height="2" fill="#000"/>
<rect x="543" y="394" width="5" height="10" fill="#000"/>
<rect x="544" y="395" width="3" height="8" fill="#22ab94"/>
<rect x="551" y="401" width="1" height="8" fill="#000"/>
<rect x="549" y="394" width="5" height="7" fill="#000"/>
<rect x="550" y="395" width="3" height="5" fill="#f23645"/>
<rect x="558" y="384" width="1" height="10" fill="#000"/>
<rect x="558" y="401" width="1" height="3" fill="#000"/>
<rect x="556" y="394" width="5" height="7" fill="#000"/>
<rect x="557" y="395" width="3" height="5" fill="#22ab94"/>
<rect x="564" y="391" width="1" height="3" fill="#000"/>
<rect x="562" y="394" width="5" height="37" fill="#000"/>
<rect x="563" y="395" width="3" height="35" fill="#f23645"/>
<rect x="571" y="413" width="1" height="8" fill="#000"/>
<rect x="569" y="421" width="5" height="10" fill="#000"/>
<rect x="570" y="422" width="3" height="8" fill="#22ab94"/>
<rect x="577" y="433" width="1" height="5" fill="#000"/>
<rect x="575" y="421" width="5" height="12" fill="#000"/>
<rect x="576" y="422" width="3" height="10" fill="#f23645"/>
<rect x="584" y="419" width="1" height="8" fill="#000"/>
<rect x="584" y="433" width="1" height="3" fill="#000"/>
<rect x="582" y="427" width="5" height="6" fill="#000"/>
<rect x="583" y="428" width="3" height="4" fill="#22ab94"/>
<rect x="590" y="415" width="1" height="7" fill="#000"/>
<rect x="590" y="428" width="1" height="1" fill="#000"/>
<rect x="588" y="422" width="5" height="6" fill="#000"/>
<rect x="589" y="423" width="3" height="4" fill="#22ab94"/>
<rect x="597" y="399" width="1" height="14" fill="#000"/>
<rect x="595" y="413" width="5" height="10" fill="#000"/>
<rect x="596" y="414" width="3" height="8" fill="#22ab94"/>
<rect x="604" y="408" width="1" height="5" fill="#000"/>
<rect x="604" y="422" width="1" height="5" fill="#000"/>
<rect x="602" y="413" width="5" height="9" fill="#000"/>
<rect x="603" y="414" width="3" height="7" fill="#f23645"/>
<rect x="610" y="439" width="1" height="14" fill="#000"/>
<rect x="608" y="421" width="5" height="18" fill="#000"/>
<rect x="609" y="422" width="3" height="16" fill="#f23645"/>
<rect x="617" y="432" width="1" height="6" fill="#000"/>
<rect x="617" y="439" width="1" height="9" fill="#000"/>
<rect x="615" y="438" width="5" height="1" fill="#000"/>
<rect x="623" y="424" width="1" height="1" fill="#000"/>
<rect x="623" y="438" width="1" height="8" fill="#000"/>
<rect x="621" y="425" width="5" height="13" fill="#000"/>
<rect x="622" y="426" width="3" height="11" fill="#22ab94"/>
<rect x="630" y="413" width="1" height="10" fill="#000"/>
<rect x="630" y="426" width="1" height="2" fill="#000"/>
<rect x="628" y="423" width="5" height="3" fill="#000"/>
<rect x="629" y="424" width="3" height="1" fill="#22ab94"/>
<rect x="636" y="399" width="1" height="11" fill="#000"/>
<rect x="634" y="410" width="5" height="14" fill="#000"/>
<rect x="635" y="411" width="3" height="12" fill="#22ab94"/>
<rect x="643" y="393" width="1" height="17" fill="#000"/>
<rect x="641" y="410" width="5" height="1" fill="#000"/>
<rect x="649" y="403" width="1" height="6" fill="#000"/>
<rect x="649" y="410" width="1" height="9" fill="#000"/>
<rect x="647" y="409" width="5" height="1" fill="#000"/>
<rect x="656" y="410" width="1" height="4" fill="#000"/>
<rect x="654" y="407" width="5" height="3" fill="#000"/>
<rect x="655" y="408" width="3" height="1" fill="#22ab94"/>
<rect x="663" y="393" width="1" height="7" fill="#000"/>
<rect x="661" y="400" width="5" height="8" fill="#000"/>
<rect x="662" y="401" width="3" height="6" fill="#22ab94"/>
<rect x="669" y="388" width="1" height="5" fill="#000"/>
<rect x="667" y="393" width="5" height="8" fill="#000"/>
<rect x="668" y="394" width="3" height="6" fill="#22ab94"/>
<rect x="676" y="367" width="1" height="1" fill="#000"/>
<rect x="676" y="394" width="1" height="4" fill="#000"/>
<rect x="674" y="368" width="5" height="26" fill="#000"/>
<rect x="675" y="369" width="3" height="24" fill="#22ab94"/>
<rect x="682" y="352" width="1" height="13" fill="#000"/>
<rect x="680" y="365" width="5" height="4" fill="#000"/>
<rect x="681" y="366" width="3" height="2" fill="#22ab94"/>
<rect x="689" y="359" width="1" height="6" fill="#000"/>
<rect x="689" y="366" width="1" height="6" fill="#000"/>
<rect x="687" y="365" width="5" height="1" fill="#000"/>
<rect x="695" y="354" width="1" height="11" fill="#000"/>
<rect x="695" y="366" width="1" height="4" fill="#000"/>
<rect x="693" y="365" width="5" height="1" fill="#000"/>
<rect x="702" y="332" width="1" height="1" fill="#000"/>
<rect x="700" y="333" width="5" height="33" fill="#000"/>
<rect x="701" y="334" width="3" height="31" fill="#22ab94"/>
<rect x="708" y="338" width="1" height="21" fill="#000"/>
<rect x="706" y="333" width="5" height="5" fill="#000"/>
<rect x="707" y="334" width="3" height="3" fill="#f23645"/>
<rect x="715" y="318" width="1" height="11" fill="#000"/>
<rect x="715" y="338" width="1" height="12" fill="#000"/>
<rect x="713" y="329" width="5" height="9" fill="#000"/>
<rect x="714" y="330" width="3" height="7" fill="#22ab94"/>
<rect x="722" y="325" width="1" height="4" fill="#000"/>
<rect x="722" y="369" width="1" height="3" fill="#000"/>
<rect x="720" y="329" width="5" height="40" fill="#000"/>
<rect x="721" y="330" width="3" height="38" fill="#f23645"/>
<rect x="728" y="355" width="1" height="5" fill="#000"/>
<rect x="728" y="369" width="1" height="11" fill="#000"/>
<rect x="726" y="360" width="5" height="9" fill="#000"/>
<rect x="727" y="361" width="3" height="7" fill="#22ab94"/>
<rect x="735" y="345" width="1" height="4" fill="#000"/>
<rect x="735" y="361" width="1" height="11" fill="#000"/>
<rect x="733" y="349" width="5" height="12" fill="#000"/>
<rect x="734" y="350" width="3" height="10" fill="#22ab94"/>
<rect x="741" y="339" width="1" height="10" fill="#000"/>
<rect x="741" y="357" width="1" height="4" fill="#000"/>
<rect x="739" y="349" width="5" height="8" fill="#000"/>
<rect x="740" y="350" width="3" height="6" fill="#f23645"/>
<rect x="748" y="340" width="1" height="16" fill="#000"/>
<rect x="748" y="357" width="1" height="7" fill="#000"/>
<rect x="746" y="356" width="5" height="1" fill="#000"/>
<rect x="754" y="315" width="1" height="13" fill="#000"/>
<rect x="752" y="328" width="5" height="28" fill="#000"/>
<rect x="753" y="329" width="3" height="26" fill="#22ab94"/>
<rect x="761" y="323" width="1" height="5" fill="#000"/>
<rect x="761" y="349" width="1" height="7" fill="#000"/>
<rect x="759" y="328" width="5" height="21" fill="#000"/>
<rect x="760" y="329" width="3" height="19" fill="#f23645"/>
<rect x="767" y="344" width="1" height="4" fill="#000"/>
<rect x="767" y="352" width="1" height="9" fill="#000"/>
<rect x="765" y="348" width="5" height="4" fill="#000"/>
<rect x="766" y="349" width="3" height="2" fill="#f23645"/>
<rect x="774" y="332" width="1" height="19" fill="#000"/>
<rect x="772" y="351" width="5" height="3" fill="#000"/>
<rect x="773" y="352" width="3" height="1" fill="#f23645"/>
<rect x="781" y="350" width="1" height="3" fill="#000"/>
<rect x="781" y="366" width="1" height="3" fill="#000"/>
<rect x="779" y="353" width="5" height="13" fill="#000"/>
<rect x="780" y="354" width="3" height="11" fill="#f23645"/>
<rect x="787" y="336" width="1" height="29" fill="#000"/>
<rect x="787" y="395" width="1" height="20" fill="#000"/>
<rect x="785" y="365" width="5" height="30" fill="#000"/>
<rect x="786" y="366" width="3" height="28" fill="#f23645"/>
<rect x="794" y="390" width="1" height="4" fill="#000"/>
<rect x="794" y="404" width="1" height="33" fill="#000"/>
<rect x="792" y="394" width="5" height="10" fill="#000"/>
<rect x="793" y="395" width="3" height="8" fill="#f23645"/>
<rect x="800" y="394" width="1" height="9" fill="#000"/>
<rect x="798" y="403" width="5" height="19" fill="#000"/>
<rect x="799" y="404" width="3" height="17" fill="#f23645"/>
<rect x="807" y="404" width="1" height="11" fill="#000"/>
<rect x="807" y="422" width="1" height="4" fill="#000"/>
<rect x="805" y="415" width="5" height="7" fill="#000"/>
<rect x="806" y="416" width="3" height="5" fill="#22ab94"/>
<rect x="813" y="409" width="1" height="4" fill="#000"/>
<rect x="811" y="413" width="5" height="3" fill="#000"/>
<rect x="812" y="414" width="3" height="1" fill="#22ab94"/>
<rect x="820" y="403" width="1" height="2" fill="#000"/>
<rect x="818" y="405" width="5" height="9" fill="#000"/>
<rect x="819" y="406" width="3" height="7" fill="#22ab94"/>
<rect x="826" y="404" width="1" height="1" fill="#000"/>
<rect x="826" y="412" width="1" height="4" fill="#000"/>
<rect x="824" y="405" width="5" height="7" fill="#000"/>
<rect x="825" y="406" width="3" height="5" fill="#f23645"/>
<rect x="831" y="387" width="5" height="25" fill="#000"/>
<rect x="832" y="388" width="3" height="23" fill="#22ab94"/>
<rect x="840" y="386" width="1" height="1" fill="#000"/>
<rect x="838" y="387" width="5" height="11" fill="#000"/>
<rect x="839" y="388" width="3" height="9" fill="#f23645"/>
<rect x="846" y="392" width="1" height="5" fill="#000"/>
<rect x="846" y="398" width="1" height="6" fill="#000"/>
<rect x="844" y="397" width="5" height="1" fill="#000"/>
<rect x="853" y="386" width="1" height="5" fill="#000"/>
<rect x="851" y="391" width="5" height="7" fill="#000"/>
<rect x="852" y="392" width="3" height="5" fill="#22ab94"/>
<rect x="859" y="388" width="1" height="2" fill="#000"/>
<rect x="859" y="391" width="1" height="2" fill="#000"/>
<rect x="857" y="390" width="5" height="1" fill="#000"/>
<rect x="866" y="381" width="1" height="7" fill="#000"/>
<rect x="866" y="391" width="1" height="2" fill="#000"/>
<rect x="864" y="388" width="5" height="3" fill="#000"/>
<rect x="865" y="389" width="3" height="1" fill="#22ab94"/>
<rect x="872" y="386" width="1" height="2" fill="#000"/>
<rect x="872" y="391" width="1" height="12" fill="#000"/>
<rect x="870" y="388" width="5" height="3" fill="#000"/>
<rect x="871" y="389" width="3" height="1" fill="#f23645"/>
<rect x="879" y="358" width="1" height="3" fill="#000"/>
<rect x="879" y="391" width="1" height="9" fill="#000"/>
<rect x="877" y="361" width="5" height="30" fill="#000"/>
<rect x="878" y="362" width="3" height="28" fill="#22ab94"/>
<rect x="885" y="346" width="1" height="7" fill="#000"/>
<rect x="885" y="362" width="1" height="6" fill="#000"/>
<rect x="883" y="353" width="5" height="9" fill="#000"/>
<rect x="884" y="354" width="3" height="7" fill="#22ab94"/>
<rect x="892" y="338" width="1" height="1" fill="#000"/>
<rect x="892" y="354" width="1" height="2" fill="#000"/>
<rect x="890" y="339" width="5" height="15" fill="#000"/>
<rect x="891" y="340" width="3" height="13" fill="#22ab94"/>
<rect x="899" y="340" width="1" height="2" fill="#000"/>
<rect x="897" y="325" width="5" height="15" fill="#000"/>
<rect x="898" y="326" width="3" height="13" fill="#22ab94"/>
<rect x="905" y="319" width="1" height="6" fill="#000"/>
<rect x="903" y="325" width="5" height="7" fill="#000"/>
<rect x="904" y="326" width="3" height="5" fill="#f23645"/>
<rect x="912" y="290" width="1" height="23" fill="#000"/>
<rect x="910" y="313" width="5" height="19" fill="#000"/>
<rect x="911" y="314" width="3" height="17" fill="#22ab94"/>
<rect x="918" y="288" width="1" height="5" fill="#000"/>
<rect x="918" y="314" width="1" height="3" fill="#000"/>
<rect x="916" y="293" width="5" height="21" fill="#000"/>
<rect x="917" y="294" width="3" height="19" fill="#22ab94"/>
<rect x="925" y="294" width="1" height="1" fill="#000"/>
<rect x="923" y="254" width="5" height="40" fill="#000"/>
<rect x="924" y="255" width="3" height="38" fill="#22ab94"/>
<rect x="931" y="225" width="1" height="25" fill="#000"/>
<rect x="931" y="255" width="1" height="20" fill="#000"/>
<rect x="929" y="250" width="5" height="5" fill="#000"/>
<rect x="930" y="251" width="3" height="3" fill="#22ab94"/>
<rect x="938" y="237" width="1" height="9" fill="#000"/>
<rect x="938" y="251" width="1" height="8" fill="#000"/>
<rect x="936" y="246" width="5" height="5" fill="#000"/>
<rect x="937" y="247" width="3" height="3" fill="#22ab94"/>
<rect x="944" y="247" width="1" height="15" fill="#000"/>
<rect x="942" y="238" width="5" height="9" fill="#000"/>
<rect x="943" y="239" width="3" height="7" fill="#22ab94"/>
<rect x="951" y="216" width="1" height="18" fill="#000"/>
<rect x="951" y="239" width="1" height="5" fill="#000"/>
<rect x="949" y="234" width="5" height="5" fill="#000"/>
<rect x="950" y="235" width="3" height="3" fill="#22ab94"/>
<rect x="958" y="231" width="1" height="3" fill="#000"/>
<rect x="958" y="242" width="1" height="30" fill="#000"/>
<rect x="956" y="234" width="5" height="8" fill="#000"/>
<rect x="957" y="235" width="3" height="6" fill="#f23645"/>
<rect x="964" y="246" width="1" height="11" fill="#000"/>
<rect x="962" y="241" width="5" height="5" fill="#000"/>
<rect x="963" y="242" width="3" height="3" fill="#f23645"/>
<rect x="971" y="251" width="1" height="2" fill="#000"/>
<rect x="969" y="246" width="5" height="5" fill="#000"/>
<rect x="970" y="247" width="3" height="3" fill="#f23645"/>
<rect x="975" y="221" width="5" height="30" fill="#000"/>
<rect x="976" y="222" width="3" height="28" fill="#22ab94"/>
<rect x="984" y="203" width="1" height="3" fill="#000"/>
<rect x="984" y="222" width="1" height="13" fill="#000"/>
<rect x="982" y="206" width="5" height="16" fill="#000"/>
<rect x="983" y="207" width="3" height="14" fill="#22ab94"/>
<rect x="990" y="121" width="1" height="50" fill="#000"/>
<rect x="990" y="207" width="1" height="3" fill="#000"/>
<rect x="988" y="171" width="5" height="36" fill="#000"/>
<rect x="989" y="172" width="3" height="34" fill="#22ab94"/>
<rect x="997" y="162" width="1" height="9" fill="#000"/>
<rect x="997" y="174" width="1" height="20" fill="#000"/>
<rect x="995" y="171" width="5" height="3" fill="#000"/>
<rect x="996" y="172" width="3" height="1" fill="#f23645"/>
<rect x="1003" y="162" width="1" height="11" fill="#000"/>
<rect x="1003" y="177" width="1" height="4" fill="#000"/>
<rect x="1001" y="173" width="5" height="4" fill="#000"/>
<rect x="1002" y="174" width="3" height="2" fill="#f23645"/>
<rect x="1010" y="141" width="1" height="9" fill="#000"/>
<rect x="1008" y="150" width="5" height="27" fill="#000"/>
<rect x="1009" y="151" width="3" height="25" fill="#22ab94"/>
<rect x="1017" y="163" width="1" height="8" fill="#000"/>
<rect x="1015" y="150" width="5" height="13" fill="#000"/>
<rect x="1016" y="151" width="3" height="11" fill="#f23645"/>
<rect x="1023" y="188" width="1" height="9" fill="#000"/>
<rect x="1021" y="162" width="5" height="26" fill="#000"/>
<rect x="1022" y="163" width="3" height="24" fill="#f23645"/>
<rect x="1030" y="184" width="1" height="3" fill="#000"/>
<rect x="1030" y="188" width="1" height="25" fill="#000"/>
<rect x="1028" y="187" width="5" height="1" fill="#000"/>
<rect x="1036" y="131" width="1" height="3" fill="#000"/>
<rect x="1034" y="134" width="5" height="54" fill="#000"/>
<rect x="1035" y="135" width="3" height="52" fill="#22ab94"/>
<rect x="1043" y="61" width="1" height="31" fill="#000"/>
<rect x="1043" y="135" width="1" height="10" fill="#000"/>
<rect x="1041" y="92" width="5" height="43" fill="#000"/>
<rect x="1042" y="93" width="3" height="41" fill="#22ab94"/>
<rect x="1047" y="92" width="5" height="29" fill="#000"/>
<rect x="1048" y="93" width="3" height="27" fill="#f23645"/>
<rect x="1056" y="154" width="1" height="10" fill="#000"/>
<rect x="1054" y="120" width="5" height="34" fill="#000"/>
<rect x="1055" y="121" width="3" height="32" fill="#f23645"/>
<rect x="1062" y="130" width="1" height="23" fill="#000"/>
<rect x="1062" y="159" width="1" height="3" fill="#000"/>
<rect x="1060" y="153" width="5" height="6" fill="#000"/>
<rect x="1061" y="154" width="3" height="4" fill="#f23645"/>
<rect x="1069" y="111" width="1" height="2" fill="#000"/>
<rect x="1069" y="159" width="1" height="2" fill="#000"/>
<rect x="1067" y="113" width="5" height="46" fill="#000"/>
<rect x="1068" y="114" width="3" height="44" fill="#22ab94"/>
<rect x="1076" y="102" width="1" height="12" fill="#000"/>
<rect x="1076" y="138" width="1" height="23" fill="#000"/>
<rect x="1074" y="114" width="5" height="24" fill="#000"/>
<rect x="1075" y="115" width="3" height="22" fill="#f23645"/>
<rect x="1082" y="122" width="1" height="15" fill="#000"/>
<rect x="1082" y="152" width="1" height="8" fill="#000"/>
<rect x="1080" y="137" width="5" height="15" fill="#000"/>
<rect x="1081" y="138" width="3" height="13" fill="#f23645"/>
<rect x="1089" y="144" width="1" height="7" fill="#000"/>
<rect x="1089" y="162" width="1" height="9" fill="#000"/>
<rect x="1087" y="151" width="5" height="11" fill="#000"/>
<rect x="1088" y="152" width="3" height="9" fill="#f23645"/>
<rect x="1095" y="159" width="1" height="2" fill="#000"/>
<rect x="1095" y="174" width="1" height="19" fill="#000"/>
<rect x="1093" y="161" width="5" height="13" fill="#000"/>
<rect x="1094" y="162" width="3" height="11" fill="#f23645"/>
<rect x="1102" y="159" width="1" height="14" fill="#000"/>
<rect x="1100" y="173" width="5" height="15" fill="#000"/>
<rect x="1101" y="174" width="3" height="13" fill="#f23645"/>
<rect x="1108" y="163" width="1" height="6" fill="#000"/>
<rect x="1106" y="169" width="5" height="19" fill="#000"/>
<rect x="1107" y="170" width="3" height="17" fill="#22ab94"/>
<rect x="1115" y="148" width="1" height="1" fill="#000"/>
<rect x="1113" y="149" width="5" height="21" fill="#000"/>
<rect x="1114" y="150" width="3" height="19" fill="#22ab94"/>
<rect x="1121" y="151" width="1" height="2" fill="#000"/>
<rect x="1119" y="138" width="5" height="13" fill="#000"/>
<rect x="1120" y="139" width="3" height="11" fill="#22ab94"/>
</g>
<line x1="10" y1="138.5" x2="1450" y2="138.5" stroke="#22ab94" stroke-width="1" stroke-dasharray="1 2"/>
<g shape-rendering="auto">
<polyline points="1127.6,139 1141.2,124.9 1167.4,160.5 1180.4,145.8 1200,167.6 1239.6,117 1260,142.7" fill="none" stroke="#2962ff" stroke-width="2.2" stroke-linejoin="miter"/>
<polyline points="1261.6,128.2 1260,142.7 1245.2,141.1" fill="none" stroke="#2962ff" stroke-width="2.2" stroke-linejoin="miter"/>
</g>
<rect x="11" y="566" width="1506" height="1" fill="#e0e3eb"/>
<g id="macd">
<rect x="11" y="654" width="5" height="25" fill="#b2dfdb"/>
<rect x="17" y="659" width="6" height="20" fill="#b2dfdb"/>
<rect x="24" y="670" width="5" height="9" fill="#b2dfdb"/>
<rect x="30" y="674" width="6" height="5" fill="#b2dfdb"/>
<rect x="37" y="659" width="5" height="20" fill="#26a69a"/>
<rect x="43" y="655" width="6" height="24" fill="#26a69a"/>
<rect x="50" y="648" width="6" height="31" fill="#26a69a"/>
<rect x="57" y="646" width="5" height="33" fill="#26a69a"/>
<rect x="63" y="646" width="6" height="33" fill="#b2dfdb"/>
<rect x="70" y="651" width="5" height="28" fill="#b2dfdb"/>
<rect x="76" y="646" width="6" height="33" fill="#26a69a"/>
<rect x="83" y="633" width="5" height="46" fill="#26a69a"/>
<rect x="89" y="633" width="6" height="46" fill="#b2dfdb"/>
<rect x="96" y="626" width="5" height="53" fill="#26a69a"/>
<rect x="102" y="619" width="6" height="60" fill="#26a69a"/>
<rect x="109" y="614" width="6" height="65" fill="#26a69a"/>
<rect x="116" y="605" width="5" height="74" fill="#26a69a"/>
<rect x="122" y="607" width="6" height="72" fill="#b2dfdb"/>
<rect x="129" y="615" width="5" height="64" fill="#b2dfdb"/>
<rect x="135" y="614" width="6" height="65" fill="#26a69a"/>
<rect x="142" y="637" width="5" height="42" fill="#b2dfdb"/>
<rect x="148" y="659" width="6" height="20" fill="#b2dfdb"/>
<rect x="155" y="678" width="5" height="3" fill="#ff5252"/>
<rect x="161" y="678" width="6" height="15" fill="#ff5252"/>
<rect x="168" y="678" width="6" height="27" fill="#ff5252"/>
<rect x="175" y="678" width="5" height="29" fill="#ff5252"/>
<rect x="181" y="678" width="6" height="30" fill="#ff5252"/>
<rect x="188" y="678" width="5" height="27" fill="#ffcdd2"/>
<rect x="194" y="678" width="6" height="32" fill="#ff5252"/>
<rect x="201" y="678" width="5" height="30" fill="#ffcdd2"/>
<rect x="207" y="678" width="6" height="29" fill="#ffcdd2"/>
<rect x="214" y="678" width="5" height="29" fill="#ffcdd2"/>
<rect x="220" y="678" width="6" height="20" fill="#ffcdd2"/>
<rect x="227" y="678" width="6" height="17" fill="#ffcdd2"/>
<rect x="234" y="678" width="5" height="17" fill="#ffcdd2"/>
<rect x="240" y="678" width="6" height="27" fill="#ff5252"/>
<rect x="247" y="678" width="5" height="46" fill="#ff5252"/>
<rect x="253" y="678" width="6" height="59" fill="#ff5252"/>
<rect x="260" y="678" width="5" height="69" fill="#ff5252"/>
<rect x="266" y="678" width="6" height="60" fill="#ffcdd2"/>
<rect x="273" y="678" width="5" height="44" fill="#ffcdd2"/>
<rect x="279" y="678" width="6" height="43" fill="#ffcdd2"/>
<rect x="286" y="678" width="6" height="46" fill="#ff5252"/>
<rect x="293" y="678" width="5" height="51" fill="#ff5252"/>
<rect x="299" y="678" width="6" height="44" fill="#ffcdd2"/>
<rect x="306" y="678" width="5" height="50" fill="#ff5252"/>
<rect x="312" y="678" width="6" height="58" fill="#ff5252"/>
<rect x="319" y="678" width="5" height="61" fill="#ff5252"/>
<rect x="325" y="678" width="6" height="60" fill="#ffcdd2"/>
<rect x="332" y="678" width="5" height="51" fill="#ffcdd2"/>
<rect x="338" y="678" width="6" height="56" fill="#ff5252"/>
<rect x="345" y="678" width="6" height="37" fill="#ffcdd2"/>
<rect x="352" y="678" width="5" height="23" fill="#ffcdd2"/>
<rect x="358" y="678" width="6" height="16" fill="#ffcdd2"/>
<rect x="365" y="678" width="5" height="11" fill="#ffcdd2"/>
<rect x="371" y="678" width="6" height="15" fill="#ff5252"/>
<rect x="378" y="678" width="5" height="13" fill="#ffcdd2"/>
<rect x="384" y="677" width="6" height="2" fill="#26a69a"/>
<rect x="391" y="660" width="5" height="19" fill="#26a69a"/>
<rect x="397" y="654" width="6" height="25" fill="#26a69a"/>
<rect x="404" y="651" width="6" height="28" fill="#26a69a"/>
<rect x="411" y="653" width="5" height="26" fill="#b2dfdb"/>
<rect x="417" y="663" width="6" height="16" fill="#b2dfdb"/>
<rect x="424" y="671" width="5" height="8" fill="#b2dfdb"/>
<rect x="430" y="673" width="6" height="6" fill="#b2dfdb"/>
<rect x="437" y="673" width="5" height="6" fill="#b2dfdb"/>
<rect x="443" y="678" width="6" height="5" fill="#ff5252"/>
<rect x="450" y="678" width="5" height="15" fill="#ff5252"/>
<rect x="456" y="678" width="6" height="24" fill="#ff5252"/>
<rect x="463" y="678" width="6" height="22" fill="#ffcdd2"/>
<rect x="470" y="678" width="5" height="17" fill="#ffcdd2"/>
<rect x="476" y="678" width="6" height="14" fill="#ffcdd2"/>
<rect x="483" y="678" width="5" height="16" fill="#ff5252"/>
<rect x="489" y="678" width="6" height="19" fill="#ff5252"/>
<rect x="496" y="678" width="5" height="17" fill="#ffcdd2"/>
<rect x="502" y="678" width="6" height="13" fill="#ffcdd2"/>
<rect x="509" y="678" width="5" height="10" fill="#ffcdd2"/>
<rect x="515" y="677" width="6" height="2" fill="#26a69a"/>
<rect x="522" y="665" width="6" height="14" fill="#26a69a"/>
<rect x="529" y="654" width="5" height="25" fill="#26a69a"/>
<rect x="535" y="650" width="6" height="29" fill="#26a69a"/>
<rect x="542" y="645" width="5" height="34" fill="#26a69a"/>
<rect x="548" y="645" width="6" height="34" fill="#b2dfdb"/>
<rect x="555" y="644" width="5" height="35" fill="#26a69a"/>
<rect x="561" y="660" width="6" height="19" fill="#b2dfdb"/>
<rect x="568" y="667" width="5" height="12" fill="#b2dfdb"/>
<rect x="574" y="676" width="6" height="3" fill="#b2dfdb"/>
<rect x="581" y="678" width="6" height="3" fill="#ff5252"/>
<rect x="588" y="678" width="5" height="3" fill="#ff5252"/>
<rect x="594" y="675" width="6" height="4" fill="#26a69a"/>
<rect x="601" y="676" width="5" height="3" fill="#b2dfdb"/>
<rect x="607" y="678" width="6" height="7" fill="#ff5252"/>
<rect x="614" y="678" width="5" height="10" fill="#ff5252"/>
<rect x="620" y="678" width="6" height="7" fill="#ffcdd2"/>
<rect x="627" y="678" width="5" height="3" fill="#ffcdd2"/>
<rect x="633" y="672" width="6" height="7" fill="#26a69a"/>
<rect x="640" y="667" width="6" height="12" fill="#26a69a"/>
<rect x="647" y="664" width="5" height="15" fill="#26a69a"/>
<rect x="653" y="661" width="6" height="18" fill="#26a69a"/>
<rect x="660" y="658" width="5" height="21" fill="#26a69a"/>
<rect x="666" y="654" width="6" height="25" fill="#26a69a"/>
<rect x="673" y="642" width="5" height="37" fill="#26a69a"/>
<rect x="679" y="635" width="6" height="44" fill="#26a69a"/>
<rect x="686" y="633" width="5" height="46" fill="#26a69a"/>
<rect x="692" y="635" width="6" height="44" fill="#b2dfdb"/>
<rect x="699" y="625" width="6" height="54" fill="#26a69a"/>
<rect x="706" y="623" width="5" height="56" fill="#26a69a"/>
<rect x="712" y="623" width="6" height="56" fill="#26a69a"/>
<rect x="719" y="642" width="5" height="37" fill="#b2dfdb"/>
<rect x="725" y="653" width="6" height="26" fill="#b2dfdb"/>
<rect x="732" y="658" width="5" height="21" fill="#b2dfdb"/>
<rect x="738" y="666" width="6" height="13" fill="#b2dfdb"/>
<rect x="745" y="671" width="5" height="8" fill="#b2dfdb"/>
<rect x="751" y="665" width="6" height="14" fill="#26a69a"/>
<rect x="758" y="671" width="6" height="8" fill="#b2dfdb"/>
<rect x="765" y="678" width="5" height="1" fill="#b2dfdb"/>
<rect x="771" y="678" width="6" height="6" fill="#ff5252"/>
<rect x="778" y="678" width="5" height="15" fill="#ff5252"/>
<rect x="784" y="678" width="6" height="33" fill="#ff5252"/>
<rect x="791" y="678" width="5" height="47" fill="#ff5252"/>
<rect x="797" y="678" width="6" height="62" fill="#ff5252"/>
<rect x="804" y="678" width="5" height="66" fill="#ff5252"/>
<rect x="810" y="678" width="6" height="64" fill="#ffcdd2"/>
<rect x="817" y="678" width="6" height="57" fill="#ffcdd2"/>
<rect x="824" y="678" width="5" height="52" fill="#ffcdd2"/>
<rect x="830" y="678" width="6" height="37" fill="#ffcdd2"/>
<rect x="837" y="678" width="5" height="30" fill="#ffcdd2"/>
<rect x="843" y="678" width="6" height="23" fill="#ffcdd2"/>
<rect x="850" y="678" width="5" height="15" fill="#ffcdd2"/>
<rect x="856" y="678" width="6" height="9" fill="#ffcdd2"/>
<rect x="863" y="678" width="5" height="3" fill="#ffcdd2"/>
<rect x="869" y="677" width="6" height="2" fill="#26a69a"/>
<rect x="876" y="663" width="6" height="16" fill="#26a69a"/>
<rect x="883" y="652" width="5" height="27" fill="#26a69a"/>
<rect x="889" y="640" width="6" height="39" fill="#26a69a"/>
<rect x="896" y="629" width="5" height="50" fill="#26a69a"/>
<rect x="902" y="627" width="6" height="52" fill="#26a69a"/>
<rect x="909" y="621" width="5" height="58" fill="#26a69a"/>
<rect x="915" y="613" width="6" height="66" fill="#26a69a"/>
<rect x="922" y="595" width="5" height="84" fill="#26a69a"/>
<rect x="928" y="588" width="6" height="91" fill="#26a69a"/>
<rect x="935" y="587" width="6" height="92" fill="#26a69a"/>
<rect x="942" y="588" width="5" height="91" fill="#b2dfdb"/>
<rect x="948" y="594" width="6" height="85" fill="#b2dfdb"/>
<rect x="955" y="606" width="5" height="73" fill="#b2dfdb"/>
<rect x="961" y="621" width="6" height="58" fill="#b2dfdb"/>
<rect x="968" y="637" width="5" height="42" fill="#b2dfdb"/>
<rect x="974" y="639" width="6" height="40" fill="#b2dfdb"/>
<rect x="981" y="638" width="5" height="41" fill="#26a69a"/>
<rect x="987" y="627" width="6" height="52" fill="#26a69a"/>
<rect x="994" y="626" width="6" height="53" fill="#26a69a"/>
<rect x="1001" y="631" width="5" height="48" fill="#b2dfdb"/>
<rect x="1007" y="629" width="6" height="50" fill="#26a69a"/>
<rect x="1014" y="637" width="5" height="42" fill="#b2dfdb"/>
<rect x="1020" y="657" width="6" height="22" fill="#b2dfdb"/>
<rect x="1027" y="674" width="5" height="5" fill="#b2dfdb"/>
<rect x="1033" y="665" width="6" height="14" fill="#26a69a"/>
<rect x="1040" y="646" width="5" height="33" fill="#26a69a"/>
<rect x="1046" y="649" width="6" height="30" fill="#b2dfdb"/>
<rect x="1053" y="669" width="6" height="10" fill="#b2dfdb"/>
<rect x="1060" y="678" width="5" height="10" fill="#ff5252"/>
<rect x="1066" y="678" width="6" height="5" fill="#ffcdd2"/>
<rect x="1073" y="678" width="5" height="15" fill="#ff5252"/>
<rect x="1079" y="678" width="6" height="28" fill="#ff5252"/>
<rect x="1086" y="678" width="5" height="42" fill="#ff5252"/>
<rect x="1092" y="678" width="6" height="56" fill="#ff5252"/>
<rect x="1099" y="678" width="5" height="70" fill="#ff5252"/>
<rect x="1105" y="678" width="6" height="70" fill="#ff5252"/>
<rect x="1112" y="678" width="5" height="61" fill="#ffcdd2"/>
<rect x="1118" y="678" width="6" height="49" fill="#ffcdd2"/>
</g>
<line x1="10" y1="678.5" x2="1450" y2="678.5" stroke="#9598a1" stroke-width="1" stroke-dasharray="5 6"/>
<g id="legend" font-size="12" fill="#131722" shape-rendering="auto" xml:space="preserve">
<text x="18" y="45.9" textLength="588" lengthAdjust="spacingAndGlyphs">Евро / Доллар США · 1ч · FXCM  ОТКР1,13411  МАКС1,13588  МИН1,13367  ЗАКР1,13583  +0,00171 (+0,15%)</text>
<text x="18" y="62.9">Объём</text>
<text x="61.5" y="62.9" fill="#26a69a">8,7K</text>
<text x="18" y="79.9" textLength="288" lengthAdjust="spacingAndGlyphs">Order Block Detector [LuxAlgo] (5, 3, 3, ——, 1, Wick)</text>
<text x="18" y="586">MACD (12, 26, close)</text>
<text x="136" y="586" fill="#ffcdd2">−0,00112</text>
</g>
<g id="axis" font-size="12" shape-rendering="auto">
<text x="1459.5" y="80.0" fill="#131722" textLength="41.2" lengthAdjust="spacingAndGlyphs">1,14500</text>
<text x="1459.5" y="113.5" fill="#131722" textLength="41.2" lengthAdjust="spacingAndGlyphs">1,14000</text>
<text x="1459.5" y="146.9" fill="#131722" textLength="41.2" lengthAdjust="spacingAndGlyphs">1,13500</text>
<text x="1459.5" y="180.4" fill="#131722" textLength="41.2" lengthAdjust="spacingAndGlyphs">1,13000</text>
<text x="1459.5" y="213.8" fill="#131722" textLength="41.2" lengthAdjust="spacingAndGlyphs">1,12500</text>
<text x="1459.5" y="247.3" fill="#131722" textLength="41.2" lengthAdjust="spacingAndGlyphs">1,12000</text>
<text x="1459.5" y="280.7" fill="#131722" textLength="41.2" lengthAdjust="spacingAndGlyphs">1,11500</text>
<text x="1459.5" y="314.2" fill="#131722" textLength="41.2" lengthAdjust="spacingAndGlyphs">1,11000</text>
<text x="1459.5" y="347.6" fill="#131722" textLength="41.2" lengthAdjust="spacingAndGlyphs">1,10500</text>
<text x="1459.5" y="381.1" fill="#131722" textLength="41.2" lengthAdjust="spacingAndGlyphs">1,10000</text>
<text x="1459.5" y="414.5" fill="#131722" textLength="41.2" lengthAdjust="spacingAndGlyphs">1,09500</text>
<text x="1459.5" y="448.0" fill="#131722" textLength="41.2" lengthAdjust="spacingAndGlyphs">1,09000</text>
<text x="1459.5" y="481.4" fill="#131722" textLength="41.2" lengthAdjust="spacingAndGlyphs">1,08500</text>
<text x="1459.5" y="514.9" fill="#131722" textLength="41.2" lengthAdjust="spacingAndGlyphs">1,08000</text>
<text x="1459.5" y="548.3" fill="#131722" textLength="41.2" lengthAdjust="spacingAndGlyphs">1,07500</text>
<text x="1459.5" y="595.4" fill="#131722" textLength="41.2" lengthAdjust="spacingAndGlyphs">0,00200</text>
<text x="1459.5" y="638.4" fill="#131722" textLength="41.2" lengthAdjust="spacingAndGlyphs">0,00100</text>
<text x="1459.5" y="681.4" fill="#131722" textLength="41.2" lengthAdjust="spacingAndGlyphs">0,00000</text>
<text x="1459.5" y="724.4" fill="#131722" textLength="48.2" lengthAdjust="spacingAndGlyphs">−0,00100</text>
<rect x="1451" y="93" width="56" height="17" rx="2" fill="#f23645"/>
<text x="1459.5" y="105.4" fill="#fff" font-weight="bold" textLength="41.2" lengthAdjust="spacingAndGlyphs">1,14136</text>
<rect x="1451" y="130" width="56" height="17" rx="2" fill="#22ab94"/>
<text x="1459.5" y="142.4" fill="#fff" font-weight="bold" textLength="41.2" lengthAdjust="spacingAndGlyphs">1,13583</text>
<rect x="1451" y="241" width="56" height="17" rx="2" fill="#4caf50"/>
<text x="1459.5" y="253.4" fill="#fff" font-weight="bold" textLength="41.2" lengthAdjust="spacingAndGlyphs">1,11920</text>
<rect x="1451" y="267" width="56" height="17" rx="2" fill="#4caf50"/>
<text x="1459.5" y="279.4" fill="#fff" font-weight="bold" textLength="41.2" lengthAdjust="spacingAndGlyphs">1,11534</text>
<rect x="1451" y="430" width="56" height="34" rx="2" fill="#4caf50"/>
<text x="1459.5" y="442" fill="#fff" font-weight="bold" textLength="41.2" lengthAdjust="spacingAndGlyphs">1,09098</text>
<text x="1459.5" y="458" fill="#fff" font-weight="bold" textLength="41.2" lengthAdjust="spacingAndGlyphs">1,08877</text>
<rect x="1451" y="507" width="56" height="17" rx="2" fill="#4caf50"/>
<text x="1459.5" y="519.4" fill="#fff" font-weight="bold" textLength="41.2" lengthAdjust="spacingAndGlyphs">1,07950</text>
<rect x="1451" y="533" width="56" height="17" rx="2" fill="#4caf50"/>
<text x="1459.5" y="545.4" fill="#fff" font-weight="bold" textLength="41.2" lengthAdjust="spacingAndGlyphs">1,07561</text>
<svg x="1451" y="61" width="56" height="9" overflow="hidden"><rect x="0" y="-8" width="56" height="17" rx="2" fill="#f23645"/><text x="8.5" y="4.4" fill="#fff" font-weight="bold" textLength="41.2" lengthAdjust="spacingAndGlyphs">1,14730</text></svg>
<text x="27.5" y="782" text-anchor="middle" fill="#131722">3</text>
<text x="105.5" y="782" text-anchor="middle" fill="#131722">12:00</text>
<text x="184.5" y="782" text-anchor="middle" fill="#131722">4</text>
<text x="263.5" y="782" text-anchor="middle" fill="#131722">12:00</text>
<text x="341.5" y="782" text-anchor="middle" fill="#131722" font-weight="bold">7</text>
<text x="420.5" y="782" text-anchor="middle" fill="#131722">12:00</text>
<text x="499.5" y="782" text-anchor="middle" fill="#131722">8</text>
<text x="577.5" y="782" text-anchor="middle" fill="#131722">12:00</text>
<text x="656.5" y="782" text-anchor="middle" fill="#131722">9</text>
<text x="735.5" y="782" text-anchor="middle" fill="#131722">12:00</text>
<text x="813.5" y="782" text-anchor="middle" fill="#131722">10</text>
<text x="892.5" y="782" text-anchor="middle" fill="#131722">12:00</text>
<text x="971.5" y="782" text-anchor="middle" fill="#131722">11</text>
<text x="1049.5" y="782" text-anchor="middle" fill="#131722">12:00</text>
<text x="1128.5" y="782" text-anchor="middle" fill="#131722" font-weight="bold">14</text>
<text x="1207.5" y="782" text-anchor="middle" fill="#131722">12:00</text>
<text x="1285.5" y="782" text-anchor="middle" fill="#131722">15</text>
<text x="1364.5" y="782" text-anchor="middle" fill="#131722">12:00</text>
<text x="1443.5" y="782" text-anchor="middle" fill="#131722">16</text>
</g>
<rect x="1454" y="31" width="60" height="26" rx="4" fill="#fff" stroke="#ececec" stroke-width="1.5" shape-rendering="auto"/>
<text x="1463.6" y="48.8" font-size="12.3" fill="#131722" textLength="20.2" lengthAdjust="spacingAndGlyphs">USD</text>
<rect x="10" y="27" width="1508" height="765" fill="none" stroke="#f1f1f1" stroke-width="2"/>
<g id="tvlogo" shape-rendering="auto">
<path d="M10 804.2 H18 V814 H14 V808 H10 Z" fill="#131722"/>
<circle cx="20.8" cy="806.1" r="1.9" fill="#131722"/>
<path d="M24.1 804.2 H29.8 L26.6 814 H21.2 Z" fill="#131722"/>
<text x="33" y="814" font-size="13" fill="#131722">TradingView</text>
</g>
</svg>
</body></html>
